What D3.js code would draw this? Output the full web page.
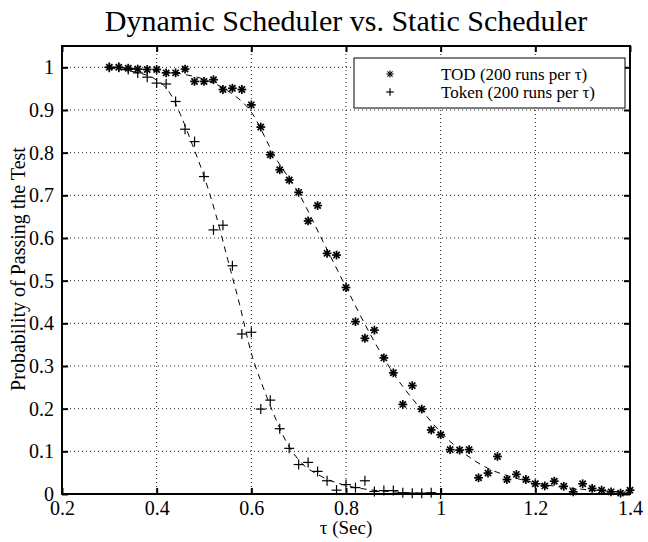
<!DOCTYPE html>
<html>
<head>
<meta charset="utf-8">
<script src="https://cdn.jsdelivr.net/npm/d3@7"></script>
<style>
  body { margin: 0; background: #fff; }
  svg text { font-family: "Liberation Serif", "Times New Roman", serif !important; fill: #000; }
</style>
</head>
<body>
<div id="chart"></div>
<script>
// tau values for the measured points (step 0.02)
var tauTOD = d3.range(0, 56).map(function(i) { return +(0.30 + i * 0.02).toFixed(2); });
var tauToken = d3.range(0, 36).map(function(i) { return +(0.30 + i * 0.02).toFixed(2); });

// probability of passing, TOD (200 runs per tau)
var probTOD = [1.0, 1.0, 0.998, 0.996, 0.995, 0.995, 0.987, 0.987, 0.996, 0.967,
  0.967, 0.971, 0.948, 0.951, 0.948, 0.912, 0.86, 0.795, 0.76, 0.736,
  0.707, 0.64, 0.676, 0.564, 0.56, 0.484, 0.404, 0.365, 0.384, 0.319,
  0.284, 0.21, 0.254, 0.199, 0.15, 0.139, 0.104, 0.103, 0.104, 0.038,
  0.049, 0.088, 0.034, 0.046, 0.034, 0.024, 0.019, 0.03, 0.018, 0.005,
  0.024, 0.013, 0.009, 0.005, 0.002, 0.009];

// probability of passing, Token (200 runs per tau)
var probToken = [1.0, 1.0, 0.995, 0.987, 0.977, 0.963, 0.961, 0.92, 0.855, 0.826,
  0.744, 0.619, 0.63, 0.535, 0.375, 0.379, 0.199, 0.22, 0.153, 0.107,
  0.069, 0.074, 0.053, 0.031, 0.009, 0.022, 0.015, 0.031, 0.006, 0.008,
  0.008, 0.003, 0.002, 0.002, 0.003, 0.0];

// fitted (dashed) curves
var fitTODx = [0.30, 0.35, 0.40, 0.45, 0.50, 0.55, 0.60, 0.65, 0.70, 0.75, 0.80,
  0.85, 0.90, 0.95, 1.00, 1.05, 1.10, 1.15, 1.20, 1.25, 1.30, 1.35, 1.40];
var fitTODy = [1.0, 0.997, 0.992, 0.985, 0.972, 0.945, 0.895, 0.79, 0.705, 0.595, 0.485,
  0.377, 0.283, 0.21, 0.145, 0.095, 0.06, 0.04, 0.026, 0.017, 0.011, 0.007, 0.004];
var fitTokenx = [0.30, 0.35, 0.40, 0.425, 0.45, 0.475, 0.50, 0.525, 0.55, 0.575, 0.60,
  0.625, 0.65, 0.675, 0.70, 0.75, 0.80, 0.85, 0.90, 0.95, 1.00, 1.20, 1.40];
var fitTokeny = [0.998, 0.99, 0.97, 0.945, 0.89, 0.82, 0.745, 0.655, 0.55, 0.445, 0.33,
  0.25, 0.18, 0.12, 0.08, 0.04, 0.02, 0.01, 0.005, 0.002, 0.001, 0.0, 0.0];

var xTicks = [0.2, 0.4, 0.6, 0.8, 1.0, 1.2, 1.4];
var yTicks = [0, 0.1, 0.2, 0.3, 0.4, 0.5, 0.6, 0.7, 0.8, 0.9, 1];
var legendLabels = ["TOD (200 runs per \u03c4)", "Token (200 runs per \u03c4)"];

var margin = {top: 46, right: 18, bottom: 48, left: 62},
    width = 648 - margin.left - margin.right,
    height = 542 - margin.top - margin.bottom;

var svg = d3.select("#chart")
  .append("svg")
    .attr("width", 648)
    .attr("height", 542)
  .append("g")
    .attr("transform", "translate(" + margin.left + "," + margin.top + ")");

var x = d3.scaleLinear().domain([0.2, 1.4]).range([0, width]);
var y = d3.scaleLinear().domain([0, 1.05]).range([height, 0]);

// dotted grid
svg.append("g")
  .selectAll("line")
  .data(xTicks.slice(1, -1))
  .enter().append("line")
    .attr("x1", function(d) { return x(d); })
    .attr("x2", function(d) { return x(d); })
    .attr("y1", 0)
    .attr("y2", height)
    .attr("stroke", "#222")
    .attr("stroke-width", 1)
    .attr("stroke-dasharray", "1,3");
svg.append("g")
  .selectAll("line")
  .data(yTicks.slice(1))
  .enter().append("line")
    .attr("x1", 0)
    .attr("x2", width)
    .attr("y1", function(d) { return y(d); })
    .attr("y2", function(d) { return y(d); })
    .attr("stroke", "#222")
    .attr("stroke-width", 1)
    .attr("stroke-dasharray", "1,3");

// axes with inward ticks on all four sides
var fmt = function(d) { return d3.format("")(+d.toFixed(1)); };
var xAxis = svg.append("g")
  .attr("transform", "translate(0," + height + ")")
  .call(d3.axisBottom(x).tickValues(xTicks).tickSize(-6).tickPadding(7).tickFormat(fmt));
var yAxis = svg.append("g")
  .call(d3.axisLeft(y).tickValues(yTicks).tickSize(-6).tickPadding(8).tickFormat(fmt));
svg.append("g")
  .call(d3.axisTop(x).tickValues(xTicks).tickSize(-6).tickFormat(""));
svg.append("g")
  .attr("transform", "translate(" + width + ",0)")
  .call(d3.axisRight(y).tickValues(yTicks).tickSize(-6).tickFormat(""));

svg.selectAll(".domain").remove();
svg.selectAll(".tick line").attr("stroke", "#000").attr("stroke-width", 2);
xAxis.selectAll("text").style("font-size", "20px");
yAxis.selectAll("text").style("font-size", "20px");

// frame
svg.append("rect")
  .attr("width", width)
  .attr("height", height)
  .attr("fill", "none")
  .attr("stroke", "#000")
  .attr("stroke-width", 2);

// fitted dashed curves
var fitLine = d3.line()
  .x(function(d) { return x(d[0]); })
  .y(function(d) { return y(d[1]); })
  .curve(d3.curveMonotoneX);

[[fitTODx, fitTODy], [fitTokenx, fitTokeny]].forEach(function(f) {
  svg.append("path")
    .datum(d3.zip(f[0], f[1]))
    .attr("d", fitLine)
    .attr("fill", "none")
    .attr("stroke", "#000")
    .attr("stroke-width", 1)
    .attr("stroke-dasharray", "6,5");
});

// markers
function star(g, r, w) {
  [0, 45, 90, 135].forEach(function(a) {
    var t = a * Math.PI / 180;
    g.append("line")
      .attr("x1", -r * Math.cos(t)).attr("y1", -r * Math.sin(t))
      .attr("x2", r * Math.cos(t)).attr("y2", r * Math.sin(t))
      .attr("stroke", "#000").attr("stroke-width", w);
  });
}
function plus(g, r) {
  g.append("line").attr("x1", -r).attr("x2", r).attr("y1", 0).attr("y2", 0)
    .attr("stroke", "#000").attr("stroke-width", 1.2);
  g.append("line").attr("x1", 0).attr("x2", 0).attr("y1", -r).attr("y2", r)
    .attr("stroke", "#000").attr("stroke-width", 1.2);
}

svg.append("g")
  .selectAll("g")
  .data(d3.zip(tauToken, probToken))
  .enter().append("g")
    .attr("transform", function(d) { return "translate(" + x(d[0]) + "," + y(d[1]) + ")"; })
    .each(function() { plus(d3.select(this), 5); });

svg.append("g")
  .selectAll("g")
  .data(d3.zip(tauTOD, probTOD))
  .enter().append("g")
    .attr("transform", function(d) { return "translate(" + x(d[0]) + "," + y(d[1]) + ")"; })
    .each(function() { star(d3.select(this), 4.4, 1.7); });

// legend
var legend = svg.append("g").attr("transform", "translate(292,12)");
legend.append("rect")
  .attr("width", 271)
  .attr("height", 50)
  .attr("fill", "#fff")
  .attr("stroke", "#000")
  .attr("stroke-width", 1);
legendLabels.forEach(function(lab, i) {
  var row = legend.append("g").attr("transform", "translate(0," + (16 + i * 18) + ")");
  var m = row.append("g").attr("transform", "translate(36,0)");
  if (i === 0) star(m, 3.6, 1.1); else plus(m, 3.8);
  row.append("text")
    .attr("x", 87)
    .attr("dy", "0.33em")
    .style("font-size", "17px")
    .text(lab);
});

// title and axis labels
svg.append("text")
  .attr("x", width / 2)
  .attr("y", -15)
  .attr("text-anchor", "middle")
  .style("font-size", "30px")
  .text("Dynamic Scheduler vs. Static Scheduler");

svg.append("text")
  .attr("x", width / 2)
  .attr("y", height + 40)
  .attr("text-anchor", "middle")
  .style("font-size", "19px")
  .text("\u03c4 (Sec)");

svg.append("text")
  .attr("transform", "rotate(-90)")
  .attr("x", -(269 - margin.top))
  .attr("y", -37)
  .attr("text-anchor", "middle")
  .style("font-size", "20px")
  .text("Probability of Passing the Test");
</script>
</body>
</html>
